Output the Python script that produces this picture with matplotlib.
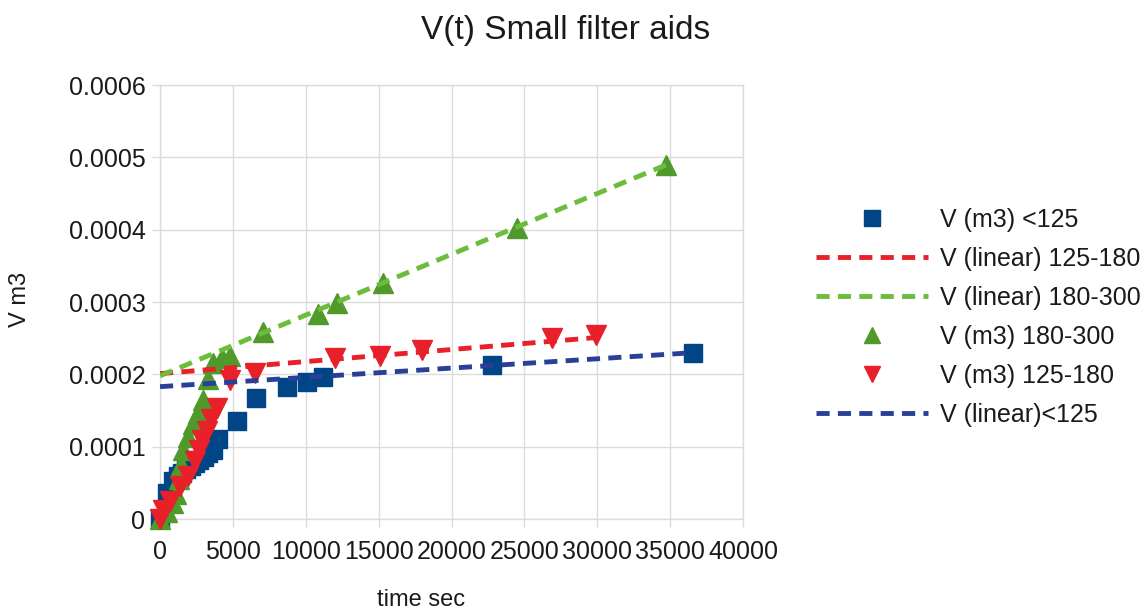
import matplotlib
matplotlib.use("Agg")
import matplotlib.pyplot as plt
from matplotlib.ticker import FixedLocator, FixedFormatter

plt.rcParams['font.family'] = ['Liberation Sans', 'DejaVu Sans']

# Measured filtrate volume (m3) against time (s), by particle size class
t_small = [0, 450, 900, 1200, 1500, 1800, 2100, 2400, 2700, 3000, 3300, 3600, 4000,
           5300, 6600, 8700, 10100, 11200, 22800, 36600]
v_small = [0, 3.6e-5, 5.3e-5, 5.9e-5, 6.4e-5, 6.9e-5, 7.3e-5, 7.7e-5, 8.1e-5, 8.6e-5,
           9.1e-5, 9.6e-5, 1.10e-4, 1.36e-4, 1.68e-4, 1.83e-4, 1.89e-4, 1.96e-4,
           2.13e-4, 2.29e-4]

t_mid = [0, 200, 700, 1400, 1900, 2400, 2700, 2900, 3200, 3500, 3900, 4800, 6500,
         12000, 15100, 18000, 26900, 29900]
v_mid = [0, 1.2e-5, 2.5e-5, 4.5e-5, 6.0e-5, 8.0e-5, 9.5e-5, 1.09e-4, 1.22e-4,
         1.38e-4, 1.54e-4, 1.92e-4, 2.02e-4, 2.22e-4, 2.26e-4, 2.33e-4, 2.50e-4,
         2.54e-4]

t_large = [0, 500, 900, 1100, 1300, 1450, 1580, 1900, 2260, 2600, 2950, 3290, 3630,
           4250, 4800, 7050, 10820, 12120, 15270, 24520, 34730]
v_large = [0, 1.0e-5, 2.2e-5, 3.5e-5, 5.5e-5, 7.5e-5, 9.5e-5, 1.13e-4, 1.32e-4,
           1.46e-4, 1.64e-4, 1.94e-4, 2.16e-4, 2.23e-4, 2.26e-4, 2.58e-4, 2.84e-4,
           2.98e-4, 3.26e-4, 4.03e-4, 4.89e-4]

# Linear fits of the late-time part of each class (end points)
fit_small_t = [0, 36600]
fit_small_v = [1.83e-4, 2.30e-4]
fit_mid_t = [0, 30000]
fit_mid_v = [2.01e-4, 2.51e-4]
fit_large_t = [0, 35000]
fit_large_v = [1.98e-4, 4.92e-4]

x_ticks = [0, 5000, 10000, 15000, 20000, 25000, 30000, 35000, 40000]
x_labels = ["0", "5000", "10000", "15000", "20000", "25000", "30000", "35000", "40000"]
y_ticks = [0, 0.0001, 0.0002, 0.0003, 0.0004, 0.0005, 0.0006]
y_labels = ["0", "0.0001", "0.0002", "0.0003", "0.0004", "0.0005", "0.0006"]

BLUE = "#004586"
BLUE_LINE = "#2a3f98"
RED = "#e8202a"
GREEN = "#4f9a2b"
GREEN_LINE = "#6cbd3c"
TEXT = "#1a1a1a"
GRID = "#dcdcdc"

fig = plt.figure(figsize=(11.44, 6.14), dpi=100)
ax = fig.add_axes([0.1399, 0.1547, 0.5096, 0.7068])

dash = dict(linestyle=(0, (2.7, 1.7)), linewidth=3.5, dash_capstyle='butt')
ms_sq = 13
ms_tri = 13.8

h1, = ax.plot(t_small, v_small, linestyle='none', marker='s', markersize=ms_sq,
              color=BLUE, clip_on=False, zorder=3, label="V (m3) <125")
h2, = ax.plot(fit_mid_t, fit_mid_v, color=RED, zorder=4, label="V (linear) 125-180", **dash)
h3, = ax.plot(fit_large_t, fit_large_v, color=GREEN_LINE, zorder=4,
              label="V (linear) 180-300", **dash)
h4, = ax.plot(t_large, v_large, linestyle='none', marker='^', markersize=ms_tri,
              color=GREEN, clip_on=False, zorder=3, label="V (m3) 180-300")
h5, = ax.plot(t_mid, v_mid, linestyle='none', marker='v', markersize=ms_tri,
              color=RED, clip_on=False, zorder=3, label="V (m3) 125-180")
h6, = ax.plot(fit_small_t, fit_small_v, color=BLUE_LINE, zorder=4,
              label="V (linear)<125", **dash)

ax.set_xlim(0, 40000)
ax.set_ylim(0, 0.0006)
ax.xaxis.set_major_locator(FixedLocator(x_ticks))
ax.xaxis.set_major_formatter(FixedFormatter(x_labels))
ax.yaxis.set_major_locator(FixedLocator(y_ticks))
ax.yaxis.set_major_formatter(FixedFormatter(y_labels))

ax.grid(True, color=GRID, linewidth=1.0, zorder=0)
ax.set_axisbelow(True)
for s in ax.spines.values():
    s.set_color(GRID)
    s.set_linewidth(1.0)
ax.tick_params(axis='both', colors=GRID, length=6, width=1.0, labelsize=18,
               labelcolor=TEXT)
ax.tick_params(axis='x', pad=9)
ax.tick_params(axis='y', pad=4.5)

ax.set_xlabel("time sec", fontsize=17, color=TEXT)
ax.xaxis.set_label_coords(0.448, -0.187)
ax.xaxis.label.set_va('center')
ax.set_ylabel("V m3", fontsize=17, color=TEXT)
ax.yaxis.set_label_coords(-0.240, 0.505)
ax.yaxis.label.set_va('center')

fig.text(0.494, 1 - 30 / 614, "V(t) Small filter aids", ha='center', va='center',
         fontsize=24, color=TEXT)

leg = fig.legend(handles=[h1, h2, h3, h4, h5, h6], loc='upper left',
                 bbox_to_anchor=(816 / 1144, 1 - 208 / 614), frameon=False,
                 fontsize=18, handlelength=4.48, handletextpad=0.48,
                 labelspacing=0.6, borderpad=0, borderaxespad=0,
                 markerscale=0.85)
for t in leg.get_texts():
    t.set_color(TEXT)

fig.savefig("out.png", dpi=100)
